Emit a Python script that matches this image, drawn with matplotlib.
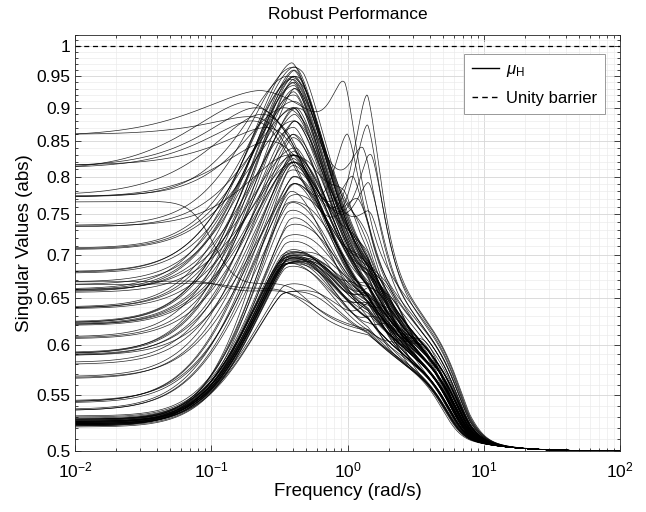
import numpy as np
import matplotlib
matplotlib.use('Agg')
import matplotlib.pyplot as plt
from matplotlib.ticker import FixedLocator, FixedFormatter, NullFormatter, LogLocator
from matplotlib.lines import Line2D

plt.rcParams['font.family'] = ['Liberation Sans', 'DejaVu Sans']
plt.rcParams['mathtext.fontset'] = 'custom'
plt.rcParams['mathtext.rm'] = 'Liberation Sans'
plt.rcParams['mathtext.it'] = 'Liberation Sans:italic'

# ---------------- data ----------------
# low-frequency level of each curve
low_level = [
    # bottom band (0-25)
    0.521, 0.522, 0.522, 0.523, 0.523, 0.523, 0.524, 0.524, 0.524, 0.525, 0.525, 0.525, 0.526,
    0.526, 0.526, 0.527, 0.527, 0.528, 0.528, 0.529, 0.530, 0.531, 0.522, 0.524, 0.526, 0.528,
    # middle levels (26-62)
    0.536, 0.536, 0.537, 0.543, 0.544, 0.545, 0.566, 0.568, 0.580, 0.582,
    0.589, 0.590, 0.591, 0.592, 0.606, 0.608, 0.620, 0.621, 0.622, 0.623, 0.624,
    0.638, 0.639, 0.640, 0.656, 0.658, 0.659, 0.660, 0.665, 0.668, 0.678, 0.680,
    0.706, 0.708, 0.734, 0.736, 0.773,
    # flat then dipping to the 0.655 group (63-65)
    0.665, 0.668, 0.766,
    # high levels with early broad peaks (66-73)
    0.858, 0.860, 0.810, 0.812, 0.814, 0.816, 0.772, 0.775,
    # more curves (74-)
    0.523, 0.524, 0.525, 0.526, 0.527, 0.525, 0.524, 0.526, 0.528, 0.523,
    0.544, 0.567, 0.589, 0.591, 0.607, 0.621, 0.623, 0.639, 0.657, 0.659, 0.679, 0.707, 0.735, 0.774,
]
# main peak level and frequency (rad/s)
peak_level = [
    0.686, 0.688, 0.690, 0.691, 0.692, 0.693, 0.694, 0.695, 0.696, 0.697, 0.698, 0.699, 0.700,
    0.690, 0.694, 0.697, 0.701, 0.703, 0.705, 0.715, 0.735, 0.755, 0.775, 0.655, 0.658, 0.662,
    0.765, 0.790, 0.815, 0.800, 0.830, 0.780, 0.830, 0.855, 0.820, 0.880,
    0.790, 0.830, 0.900, 0.930, 0.825, 0.945, 0.820, 0.860, 0.900, 0.950, 0.960,
    0.830, 0.930, 0.960, 0.820, 0.870, 0.950, 0.972, 0.900, 0.940, 0.920, 0.965,
    0.880, 0.950, 0.900, 0.965, 0.950,
    0.662, 0.658, 0.660,
    0.927, 0.885, 0.909, 0.880, 0.900, 0.870, 0.850, 0.890,
    0.688, 0.692, 0.695, 0.698, 0.700, 0.720, 0.745, 0.765, 0.790, 0.810,
    0.820, 0.800, 0.860, 0.940, 0.880, 0.835, 0.925, 0.890, 0.935, 0.840, 0.945, 0.910, 0.830, 0.900,
]
peak_freq = [
    0.40, 0.41, 0.39, 0.40, 0.42, 0.40, 0.41, 0.39, 0.40, 0.41, 0.40, 0.42, 0.40,
    0.38, 0.41, 0.40, 0.39, 0.41, 0.40, 0.40, 0.41, 0.40, 0.42, 0.40, 0.41, 0.39,
    0.40, 0.41, 0.40, 0.41, 0.40, 0.39, 0.41, 0.40, 0.40, 0.41,
    0.41, 0.40, 0.40, 0.41, 0.40, 0.40, 0.41, 0.40, 0.42, 0.40, 0.41,
    0.40, 0.41, 0.40, 0.41, 0.40, 0.41, 0.39, 0.40, 0.41, 0.40, 0.41,
    0.40, 0.41, 0.42, 0.40, 0.40,
    0.40, 0.41, 0.40,
    0.228, 0.35, 0.183, 0.30, 0.30, 0.40, 0.35, 0.30,
    0.40, 0.41, 0.39, 0.40, 0.41, 0.40, 0.41, 0.40, 0.41, 0.40,
    0.40, 0.41, 0.40, 0.39, 0.41, 0.40, 0.40, 0.41, 0.40, 0.41, 0.39, 0.40, 0.41, 0.40,
]
# level in the 1-2 rad/s band and roll-off frequency (rad/s)
mid_level = [
    0.60, 0.61, 0.62, 0.60, 0.63, 0.61, 0.62, 0.64, 0.60, 0.62, 0.61, 0.63, 0.62,
    0.60, 0.61, 0.63, 0.62, 0.64, 0.61, 0.62, 0.63, 0.62, 0.64, 0.60, 0.61, 0.60,
    0.62, 0.63, 0.61, 0.62, 0.64, 0.60, 0.63, 0.62, 0.61, 0.64,
    0.62, 0.63, 0.62, 0.65, 0.62, 0.64, 0.61, 0.63, 0.62, 0.64, 0.63,
    0.62, 0.63, 0.65, 0.62, 0.63, 0.64, 0.65, 0.63, 0.64, 0.63, 0.65,
    0.67, 0.64, 0.68, 0.64, 0.64,
    0.605, 0.61, 0.61,
    0.69, 0.70, 0.70, 0.68, 0.69, 0.67, 0.68, 0.67,
    0.61, 0.62, 0.63, 0.60, 0.62, 0.63, 0.61, 0.64, 0.62, 0.63,
    0.63, 0.62, 0.64, 0.63, 0.62, 0.65, 0.63, 0.64, 0.62, 0.63, 0.65, 0.64, 0.66, 0.65,
]
rolloff_freq = [
    5.8, 6.1, 6.4, 5.6, 6.7, 6.0, 6.3, 6.8, 5.7, 6.2, 6.0, 6.5, 6.1,
    5.5, 5.9, 6.6, 6.3, 6.9, 6.0, 6.4, 6.6, 6.2, 6.8, 5.6, 5.8, 5.3,
    6.1, 6.5, 5.9, 6.3, 6.8, 5.8, 6.4, 6.2, 6.0, 6.7,
    6.1, 6.5, 6.3, 7.0, 6.2, 6.8, 5.9, 6.6, 6.3, 6.9, 6.7,
    6.4, 6.5, 7.1, 6.1, 6.4, 6.7, 7.0, 6.5, 6.8, 6.6, 7.1,
    7.0, 6.8, 7.2, 7.0, 6.8,
    5.6, 5.8, 6.0,
    7.2, 7.3, 7.4, 7.1, 7.2, 7.0, 7.1, 6.9,
    5.9, 6.2, 6.5, 5.7, 6.3, 6.6, 6.0, 6.8, 6.4, 6.7,
    6.6, 6.2, 6.8, 6.5, 6.3, 7.0, 6.6, 6.8, 6.2, 6.4, 7.0, 6.8, 7.0, 6.9,
]
# curves that dip before the main peak
dip_curve = [63, 64, 65]
dip_level = [0.650, 0.646, 0.645]
dip_freq = [0.135, 0.125, 0.105]
# curves with a wide early peak
wide_curve = [66, 67, 68, 69, 70, 71, 72, 73]
wide_left = [0.42, 0.40, 0.40, 0.42, 0.42, 0.40, 0.40, 0.42]
wide_right = [0.45, 0.28, 0.40, 0.28, 0.28, 0.26, 0.28, 0.28]
hold_freq = [0.85, 0.40, 0.50, 0.34, 0.34, 0.45, 0.40, 0.34]
# secondary resonance peaks (rad/s)
sec_curve = [66, 67, 68, 69, 70, 71, 72, 73, 60, 58, 96]
sec_level = [0.939, 0.874, 0.920, 0.860, 0.830, 0.800, 0.790, 0.770, 0.840, 0.750, 0.780]
sec_freq = [0.96, 1.40, 1.39, 1.00, 1.50, 1.10, 1.45, 1.20, 1.30, 1.50, 0.95]
# small ripples in the 1-4 rad/s band (gain ratio)
ripple_curve = [0, 3, 6, 9, 12, 15, 18, 21, 24, 27, 30, 33, 36, 39, 42, 45, 48, 51,
                54, 57, 74, 77, 80, 83, 86, 89, 92, 95, 2, 11, 20, 29, 38, 47, 56, 65]
ripple_freq = [1.3, 1.8, 1.5, 2.1, 1.2, 1.7, 1.4, 1.9, 1.6, 1.3, 2.2, 1.5, 1.8, 1.2, 1.6,
               2.0, 1.4, 1.7, 1.9, 1.3, 1.5, 2.1, 1.6, 1.4, 1.8, 1.2, 1.7, 2.0,
               3.4, 3.8, 3.6, 3.2, 3.9, 3.5, 3.7, 2.6]
ripple_gain = [1.035, 1.04, 1.03, 1.045, 1.03, 1.04, 1.035, 1.03, 1.045, 1.04, 1.03, 1.035,
               1.04, 1.03, 1.045, 1.035, 1.04, 1.03, 1.035, 1.04, 1.03, 1.045, 1.035,
               1.04, 1.03, 1.035, 1.04, 1.03, 1.03, 1.035, 1.025, 1.03, 1.035, 1.03, 1.025, 1.02]

# ---------------- build curves ----------------
w = np.logspace(-2, 2, 1200)
x = np.log10(w)
PEXP = 1.6


def sig(c, k):
    return 1.0 / (1.0 + np.exp((x - c) / k))


def u(v):
    return float(np.log(v / 0.5))


def bump(c, s):
    return np.exp(-0.5 * np.abs((x - c) / s) ** PEXP)


n = len(low_level)
curves = []
for i in range(n):
    xp_t = np.log10(peak_freq[i])
    uL = u(low_level[i])
    uP = u(peak_level[i])
    wl = 0.28 if low_level[i] < 0.535 else 0.33
    wr, hold = 0.25, peak_freq[i] * 1.15
    if i in wide_curve:
        j = wide_curve.index(i)
        wl, wr, hold = wide_left[j], wide_right[j], hold_freq[j]
    if i in dip_curve:
        j = dip_curve.index(i)
        uB = u(dip_level[j])
        low = uB + (uL - uB) * sig(np.log10(dip_freq[j]), 0.09)
    else:
        low = uL * np.ones_like(x)
    g2 = sig(np.log10(hold), 0.1)
    uM = u(mid_level[i])
    uT = 0.025
    slope = 1.0 - 0.62 * np.clip((x - 0.15) / 0.75, 0.0, 1.0)
    mid = (uM - uT) * slope * sig(np.log10(rolloff_freq[i]), 0.07) + uT / (1 + (w / 9.0) ** 2)
    base = low * g2 + mid * (1 - g2)
    # fit the bump so that its maximum sits at the read peak
    xp = xp_t
    kk = np.argmin(np.abs(x - xp_t))
    A = max(uP - base[kk], 0.0)
    win = np.where(np.abs(x - xp_t) < 0.25)[0]
    for _ in range(6):
        tot = base + A * np.where(x < xp, bump(xp, wl), bump(xp, wr))
        m = win[np.argmax(tot[win])]
        if m == win[0] or m == win[-1]:
            break
        xp = float(np.clip(xp + (xp_t - x[m]), xp_t - 0.1, xp_t + 0.1))
        A = max(A + uP - tot[m], 0.0)
    tot = base + A * np.where(x < xp, bump(xp, wl), bump(xp, wr))
    for j, c in enumerate(sec_curve):
        if c == i:
            xq = np.log10(sec_freq[j])
            kq = np.argmin(np.abs(x - xq))
            Q = max(u(sec_level[j]) - tot[kq], 0.0)
            tot = tot + Q * bump(xq, 0.09)
    for j, c in enumerate(ripple_curve):
        if c == i:
            tot = tot + np.log(ripple_gain[j]) * np.exp(-0.5 * ((x - np.log10(ripple_freq[j])) / 0.09) ** 2)
    curves.append(0.5 * np.exp(tot))

# ---------------- plot ----------------
fig = plt.figure(figsize=(6.46, 5.12), dpi=100)
ax = fig.add_axes([75 / 646, 61 / 512, 545 / 646, 416.3 / 512])

for c in curves:
    ax.plot(w, c, color='k', lw=0.5, alpha=0.85)
ax.axhline(1.0, color='k', lw=0.9, ls=(0, (4, 3)))

ax.set_xscale('log')
ax.set_yscale('log')
ax.set_xlim(1e-2, 1e2)
ax.set_ylim(0.5, 1.02)

yt = [0.5, 0.55, 0.6, 0.65, 0.7, 0.75, 0.8, 0.85, 0.9, 0.95, 1.0]
ylab = ['0.5', '0.55', '0.6', '0.65', '0.7', '0.75', '0.8', '0.85', '0.9', '0.95', '1']
ax.yaxis.set_major_locator(FixedLocator(yt))
ax.yaxis.set_major_formatter(FixedFormatter(ylab))
ax.yaxis.set_minor_locator(FixedLocator(np.arange(0.50, 1.021, 0.01)))
ax.yaxis.set_minor_formatter(NullFormatter())
ax.xaxis.set_major_locator(LogLocator(base=10, numticks=10))
ax.xaxis.set_minor_locator(LogLocator(base=10, subs=np.arange(2, 10), numticks=20))
ax.xaxis.set_minor_formatter(NullFormatter())

ax.grid(True, which='major', color='#d6d6d6', lw=0.6)
ax.grid(True, which='minor', color='#ebebeb', lw=0.5)
ax.set_axisbelow(True)
ax.tick_params(which='both', direction='in', top=True, right=True, labelsize=12.5,
               color='#262626', width=0.6)
ax.tick_params(which='major', length=4)
ax.tick_params(which='minor', length=2)
ax.tick_params(axis='x', which='major', pad=7)
for s in ax.spines.values():
    s.set_color('#262626')
    s.set_linewidth(0.6)

ax.set_title('Robust Performance', fontsize=12.5, pad=11)
ax.set_xlabel('Frequency (rad/s)', fontsize=13.5, labelpad=2)
ax.set_ylabel('Singular Values (abs)', fontsize=13.5, labelpad=2)

handles = [Line2D([], [], color='k', lw=1.0),
           Line2D([], [], color='k', lw=1.0, ls=(0, (4, 3)))]
leg = ax.legend(handles, [r'$\mu_{\mathrm{H}}$', 'Unity barrier'], loc='upper right',
                bbox_to_anchor=(0.9725, 0.9537), borderaxespad=0, fancybox=False,
                framealpha=1, edgecolor='#999999', fontsize=12, handlelength=1.6,
                handletextpad=0.4, borderpad=0.5, labelspacing=0.7)
leg.get_frame().set_linewidth(0.7)

fig.savefig('out.png', dpi=100)
